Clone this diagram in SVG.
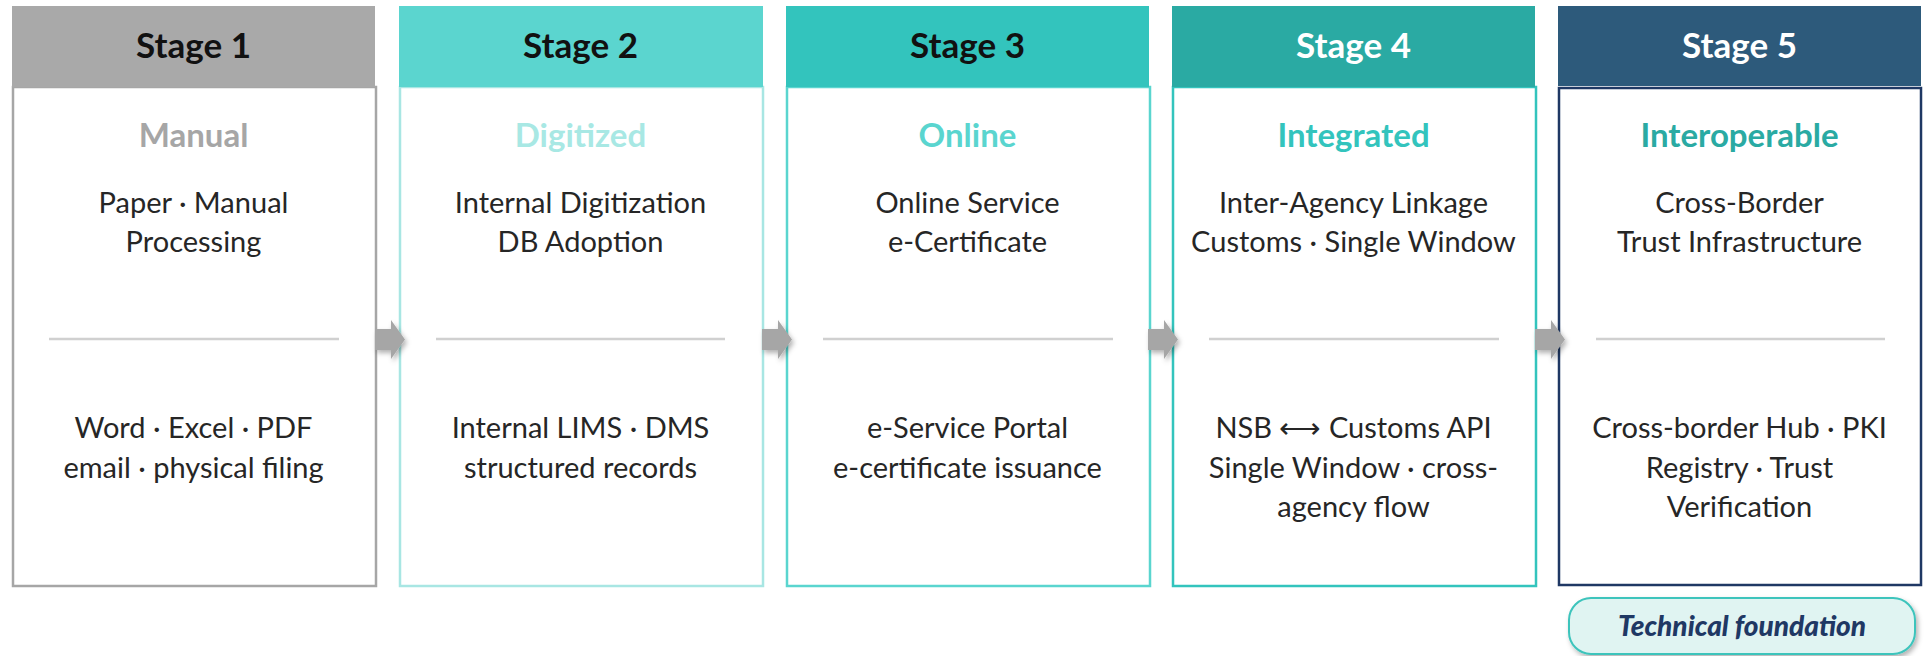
<svg xmlns="http://www.w3.org/2000/svg" width="1925" height="656" viewBox="0 0 1925 656">
<defs>
<filter id="sh" x="-30%" y="-30%" width="170%" height="170%">
<feDropShadow dx="2" dy="3" stdDeviation="2.5" flood-color="#000" flood-opacity="0.3"/>
</filter>
<style>
text{font-family:Lato,"Liberation Sans",sans-serif;text-anchor:middle}
.hd{font-size:35px;font-weight:bold}
.tt{font-size:33px;font-weight:bold}
.bd{font-size:29px;fill:#262626}
.dv{stroke:#d0d0d0;stroke-width:2.5}
.body{fill:#fff;stroke-width:2.5}
.arr{fill:#a6a6a6;filter:url(#sh)}
</style>
</defs>
<rect width="1925" height="656" fill="#fff"/>

<g id="stage1">
<rect class="body" x="13" y="87" width="363" height="499" stroke="#a6a6a6"/>
<rect x="12" y="6" width="363" height="81" fill="#a9a9a9"/>
<text class="hd" x="193.5" y="58" fill="#111">Stage 1</text>
<text class="tt" x="193.5" y="147" fill="#a6a6a6">Manual</text>
<text class="bd" x="193.5" y="213">Paper · Manual</text>
<text class="bd" x="193.5" y="252">Processing</text>
<line class="dv" x1="49" y1="339" x2="339" y2="339"/>
<text class="bd" x="193.5" y="438">Word · Excel · PDF</text>
<text class="bd" x="193.5" y="478">email · physical filing</text>
</g>

<g id="stage2">
<rect class="body" x="400" y="87" width="363" height="499" stroke="#a8e6e3"/>
<rect x="399" y="6" width="364" height="81" fill="#5bd5cf"/>
<text class="hd" x="580.5" y="58" fill="#111">Stage 2</text>
<text class="tt" x="580.5" y="147" fill="#a8e8e4">Digitized</text>
<text class="bd" x="580.5" y="213">Internal Digitization</text>
<text class="bd" x="580.5" y="252">DB Adoption</text>
<line class="dv" x1="436" y1="339" x2="725" y2="339"/>
<text class="bd" x="580.5" y="438">Internal LIMS · DMS</text>
<text class="bd" x="580.5" y="478">structured records</text>
</g>

<g id="stage3">
<rect class="body" x="787" y="87" width="363" height="499" stroke="#5ad5cf"/>
<rect x="786" y="6" width="363" height="81" fill="#33c4bd"/>
<text class="hd" x="967.5" y="58" fill="#111">Stage 3</text>
<text class="tt" x="967.5" y="147" fill="#5ad5cf">Online</text>
<text class="bd" x="967.5" y="213">Online Service</text>
<text class="bd" x="967.5" y="252">e-Certificate</text>
<line class="dv" x1="823" y1="339" x2="1113" y2="339"/>
<text class="bd" x="967.5" y="438">e-Service Portal</text>
<text class="bd" x="967.5" y="478">e-certificate issuance</text>
</g>

<g id="stage4">
<rect class="body" x="1173" y="87" width="363" height="499" stroke="#33c4bd"/>
<rect x="1172" y="6" width="363" height="81" fill="#2aaaa3"/>
<text class="hd" x="1353.5" y="58" fill="#fff">Stage 4</text>
<text class="tt" x="1353.5" y="147" fill="#33c4bd">Integrated</text>
<text class="bd" x="1353.5" y="213">Inter-Agency Linkage</text>
<text class="bd" x="1353.5" y="252">Customs · Single Window</text>
<line class="dv" x1="1209" y1="339" x2="1499" y2="339"/>
<text class="bd" x="1353.5" y="438">NSB ⟷ Customs API</text>
<text class="bd" x="1353.5" y="478">Single Window · cross-</text>
<text class="bd" x="1353.5" y="517">agency flow</text>
</g>

<g id="stage5">
<rect class="body" x="1559" y="88" width="362" height="497" stroke="#1f3864" stroke-width="3.5"/>
<rect x="1558" y="6" width="363" height="80" fill="#2d5a7b"/>
<text class="hd" x="1739.5" y="58" fill="#fff">Stage 5</text>
<text class="tt" x="1739.5" y="147" fill="#2aaaa3">Interoperable</text>
<text class="bd" x="1739.5" y="213">Cross-Border</text>
<text class="bd" x="1739.5" y="252">Trust Infrastructure</text>
<line class="dv" x1="1596" y1="339" x2="1885" y2="339"/>
<text class="bd" x="1739.5" y="438">Cross-border Hub · PKI</text>
<text class="bd" x="1739.5" y="478">Registry · Trust</text>
<text class="bd" x="1739.5" y="517">Verification</text>
</g>

<g id="foundation">
<rect x="1569" y="598" width="346" height="56" rx="22" fill="#e0f4f2" stroke="#3cc4bc" stroke-width="2" filter="url(#sh)"/>
<text x="1742" y="636" font-size="28" font-weight="900" font-style="italic" fill="#1f3864">Technical foundation</text>
</g>

<g id="connectors">
<path class="arr" d="M375,329 H391 V320 L405,339.5 L391,359 V350 H375 Z"/>
<path class="arr" d="M762,329 H778 V320 L792,339.5 L778,359 V350 H762 Z"/>
<path class="arr" d="M1148,329 H1164 V320 L1178,339.5 L1164,359 V350 H1148 Z"/>
<path class="arr" d="M1535,329 H1551 V320 L1565,339.5 L1551,359 V350 H1535 Z"/>
</g>
</svg>
